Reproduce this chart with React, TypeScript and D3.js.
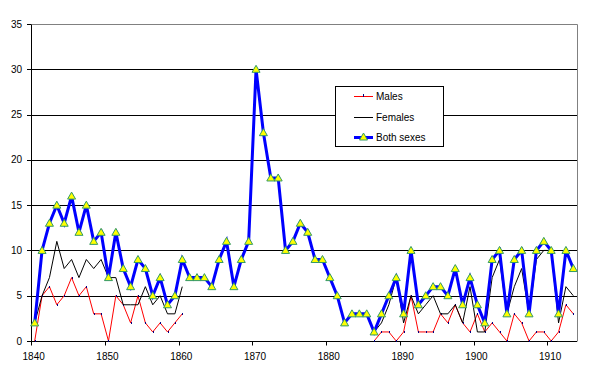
import { useEffect, useRef } from "react";
import * as d3 from "d3";

const years = [
  1840, 1841, 1842, 1843, 1844, 1845, 1846, 1847, 1848, 1849,
  1850, 1851, 1852, 1853, 1854, 1855, 1856, 1857, 1858, 1859,
  1860, 1861, 1862, 1863, 1864, 1865, 1866, 1867, 1868, 1869,
  1870, 1871, 1872, 1873, 1874, 1875, 1876, 1877, 1878, 1879,
  1880, 1881, 1882, 1883, 1884, 1885, 1886, 1887, 1888, 1889,
  1890, 1891, 1892, 1893, 1894, 1895, 1896, 1897, 1898, 1899,
  1900, 1901, 1902, 1903, 1904, 1905, 1906, 1907, 1908, 1909,
  1910, 1911, 1912, 1913,
];

const males: (number | null)[] = [
  0, 5, 6, 4, 5, 7, 5, 6, 3, 3,
  0, 5, 4, 2, 5, 2, 1, 2, 1, 2,
  3, null, null, null, null, null, null, null, null, null,
  null, null, null, null, null, null, null, null, null, null,
  null, null, null, null, null, null, 0, 1, 1, 0,
  1, 5, 1, 1, 1, 3, 2, 4, 2, 1,
  3, 1, 2, 1, 0, 3, 2, 0, 1, 1,
  0, 1, 4, 3,
];

const females: (number | null)[] = [
  2, 5, 7, 11, 8, 9, 7, 9, 8, 9,
  7, 7, 4, 4, 4, 6, 4, 5, 3, 3,
  6, null, null, null, null, null, null, null, null, null,
  null, null, null, null, null, null, null, null, null, null,
  null, null, null, null, null, null, 1, 2, 4, 7,
  2, 5, 3, 4, 5, 3, 3, 4, 2, 6,
  1, 1, 7, 9, 3, 6, 8, 3, 9, 10,
  10, 2, 6, 5,
];

const bothSexes = [
  2, 10, 13, 15, 13, 16, 12, 15, 11, 12,
  7, 12, 8, 6, 9, 8, 5, 7, 4, 5,
  9, 7, 7, 7, 6, 9, 11, 6, 9, 11,
  30, 23, 18, 18, 10, 11, 13, 12, 9, 9,
  7, 5, 2, 3, 3, 3, 1, 3, 5, 7,
  3, 10, 4, 5, 6, 6, 5, 8, 4, 7,
  4, 2, 9, 10, 3, 9, 10, 3, 10, 11,
  10, 3, 10, 8,
];

const xTickYears = [1840, 1850, 1860, 1870, 1880, 1890, 1900, 1910];
const yTicks = [0, 5, 10, 15, 20, 25, 30, 35];

export default function App() {
  const svgRef = useRef<SVGSVGElement>(null);

  useEffect(() => {
    if (!svgRef.current) return;
    const svg = d3.select(svgRef.current);
    svg.selectAll("*").remove();

    const width = 589;
    const height = 369;
    const left = 31;
    const right = 577;
    const top = 24;
    const bottom = 341;
    const font = "'Liberation Sans', Arial, sans-serif";

    svg.attr("width", width).attr("height", height);

    const x = d3
      .scalePoint<number>()
      .domain(years)
      .range([left, right])
      .padding(0.5);
    const step = x.step();

    const y = d3.scaleLinear().domain([0, 35]).range([bottom, top]);
    const crisp = (v: number) => Math.round(v) + 0.5;

    // Grid lines
    svg
      .append("g")
      .selectAll("line")
      .data(yTicks.filter((d) => d > 0 && d < 35))
      .enter()
      .append("line")
      .attr("x1", left)
      .attr("x2", right)
      .attr("y1", (d) => crisp(y(d)))
      .attr("y2", (d) => crisp(y(d)))
      .attr("stroke", "#000");

    // Plot border (top and right)
    svg
      .append("path")
      .attr(
        "d",
        `M${left},${crisp(y(35))}H${crisp(right)}V${crisp(y(0))}`
      )
      .attr("fill", "none")
      .attr("stroke", "#808080");

    // Axes
    svg
      .append("line")
      .attr("x1", crisp(left))
      .attr("x2", crisp(left))
      .attr("y1", crisp(y(35)))
      .attr("y2", crisp(y(0)))
      .attr("stroke", "#000");
    svg
      .append("line")
      .attr("x1", left)
      .attr("x2", right)
      .attr("y1", crisp(y(0)))
      .attr("y2", crisp(y(0)))
      .attr("stroke", "#000");

    // Y ticks and labels
    const yg = svg.append("g");
    yg.selectAll("line")
      .data(yTicks)
      .enter()
      .append("line")
      .attr("x1", left - 4)
      .attr("x2", left)
      .attr("y1", (d) => crisp(y(d)))
      .attr("y2", (d) => crisp(y(d)))
      .attr("stroke", "#000");
    yg.selectAll("text")
      .data(yTicks)
      .enter()
      .append("text")
      .attr("x", 22)
      .attr("y", (d) => y(d) + 3.5)
      .attr("text-anchor", "end")
      .attr("font-family", font)
      .attr("font-size", "10px")
      .attr("fill", "#000")
      .text((d) => d);

    // X ticks and labels
    const xg = svg.append("g");
    xg.selectAll("line")
      .data(xTickYears)
      .enter()
      .append("line")
      .attr("x1", (d) => crisp(x(d)! - step / 2))
      .attr("x2", (d) => crisp(x(d)! - step / 2))
      .attr("y1", crisp(y(0)))
      .attr("y2", crisp(y(0)) + 4)
      .attr("stroke", "#000");
    xg.selectAll("text")
      .data(xTickYears)
      .enter()
      .append("text")
      .attr("x", (d) => x(d)! - 1)
      .attr("y", 360)
      .attr("text-anchor", "middle")
      .attr("font-family", font)
      .attr("font-size", "10px")
      .attr("fill", "#000")
      .text((d) => d);

    const line = d3
      .line<number | null>()
      .defined((d) => d !== null)
      .x((_, i) => x(years[i])!)
      .y((d) => y(d as number));

    // Males
    svg
      .append("path")
      .datum(males)
      .attr("d", line)
      .attr("fill", "none")
      .attr("stroke", "#FF0000")
      .attr("stroke-width", 1);
    svg
      .append("g")
      .selectAll("rect")
      .data(males.map((v, i) => ({ v, yr: years[i] })).filter((d) => d.v !== null))
      .enter()
      .append("rect")
      .attr("x", (d) => Math.round(x(d.yr)!))
      .attr("y", (d) => Math.round(y(d.v as number)) - 1)
      .attr("width", 1)
      .attr("height", 2)
      .attr("fill", "#000080");

    // Females
    svg
      .append("path")
      .datum(females)
      .attr("d", line)
      .attr("fill", "none")
      .attr("stroke", "#000")
      .attr("stroke-width", 1);

    // Both sexes
    svg
      .append("path")
      .datum(bothSexes)
      .attr("d", line)
      .attr("fill", "none")
      .attr("stroke", "#0000FF")
      .attr("stroke-width", 3);

    const tri = "M0,-4L4,3L-4,3Z";
    svg
      .append("g")
      .selectAll("path")
      .data(bothSexes)
      .enter()
      .append("path")
      .attr("d", tri)
      .attr("transform", (d, i) => `translate(${x(years[i])},${y(d)})`)
      .attr("fill", "#FFFF00")
      .attr("stroke", "#339966")
      .attr("stroke-width", 1);

    // Legend
    const lg = svg.append("g");
    lg.append("rect")
      .attr("x", 335.5)
      .attr("y", 86.5)
      .attr("width", 108)
      .attr("height", 60)
      .attr("fill", "#fff")
      .attr("stroke", "#000");

    const entries = [
      { label: "Males", color: "#FF0000", w: 1, ly: 96 },
      { label: "Females", color: "#000", w: 1, ly: 117 },
      { label: "Both sexes", color: "#0000FF", w: 3, ly: 137 },
    ];
    entries.forEach((e) => {
      lg.append("line")
        .attr("x1", 354)
        .attr("x2", 373)
        .attr("y1", e.ly + 0.5)
        .attr("y2", e.ly + 0.5)
        .attr("stroke", e.color)
        .attr("stroke-width", e.w);
      lg.append("text")
        .attr("x", 376)
        .attr("y", e.ly + 4)
        .attr("font-family", font)
        .attr("font-size", "10px")
        .attr("fill", "#000")
        .text(e.label);
    });
    lg.append("rect")
      .attr("x", 363)
      .attr("y", 94)
      .attr("width", 1)
      .attr("height", 3)
      .attr("fill", "#000080");
    lg.append("path")
      .attr("d", tri)
      .attr("transform", `translate(363.5,${137})`)
      .attr("fill", "#FFFF00")
      .attr("stroke", "#339966");
  }, []);

  return (
    <div style={{ position: "absolute", left: 0, top: 0, background: "#fff" }}>
      <svg ref={svgRef}></svg>
    </div>
  );
}
